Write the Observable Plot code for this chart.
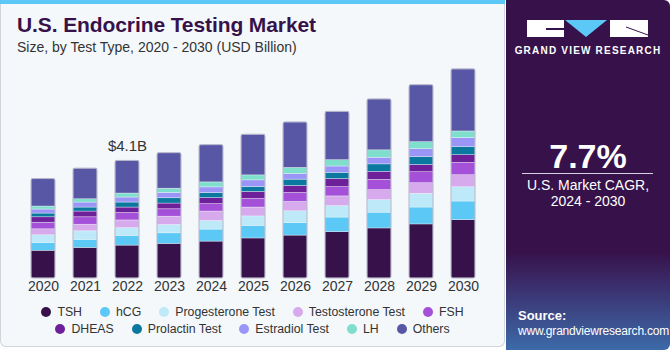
<!DOCTYPE html>
<html><head><meta charset="utf-8">
<script src="https://cdn.jsdelivr.net/npm/d3@7"></script>
<script src="https://cdn.jsdelivr.net/npm/@observablehq/plot@0.6"></script>
<style>
body{margin:0;background:#fff;font-family:"Liberation Sans",Arial,sans-serif;}
#wrap{position:relative;width:670px;height:350px;overflow:hidden;}
#left{position:absolute;left:0;top:0;width:503px;height:346px;background:#f4f8fb;border:1px solid #cfd5da;border-top:none;border-radius:0 0 6px 6px;}
#strip{position:absolute;left:0;top:0;width:505px;height:4px;background:#5bc8f5;}
#title{position:absolute;left:17px;top:13px;font-size:21px;font-weight:bold;color:#37124a;letter-spacing:-0.1px;}
#subtitle{position:absolute;left:17px;top:39px;font-size:14px;color:#333;}
#chart{position:absolute;left:0;top:60px;}
#legend{position:absolute;left:0;top:303px;width:505px;font-size:12.3px;color:#333;}
.row{display:flex;justify-content:center;gap:18px;height:17px;align-items:center;}
.item{display:flex;align-items:center;gap:6px;}
.dot{width:10px;height:10px;border-radius:50%;display:inline-block;}
#right{position:absolute;left:506px;top:0;width:164px;height:350px;border-radius:0 6px 6px 0;
 background:linear-gradient(to bottom,#37124a 0%,#37124a 72%,#3b2f6e 82%,#3d6aa8 100%);}
#right .t{position:absolute;width:164px;text-align:center;color:#fff;}
</style></head>
<body>
<div id="wrap">
 <div id="left"></div>
 <div id="strip"></div>
 <div id="title">U.S. Endocrine Testing Market</div>
 <div id="subtitle">Size, by Test Type, 2020 - 2030 (USD Billion)</div>
 <div id="chart"></div>
 <div id="legend"></div>
 <div id="right">
  <svg width="164" height="60" style="position:absolute;left:0;top:0">
   <rect x="21" y="20" width="37" height="17" fill="#fff"/>
   <rect x="40" y="28" width="18" height="2" fill="#37124a"/>
   <polygon points="59,20 101,20 80,37" fill="#5bc8f5"/>
   <rect x="104" y="20" width="38" height="17" fill="#fff"/>
   <line x1="120" y1="27" x2="142" y2="35" stroke="#37124a" stroke-width="1"/>
  </svg>
  <div class="t" style="top:45px;font-size:10px;font-weight:bold;letter-spacing:1.2px;">GRAND VIEW RESEARCH</div>
  <div class="t" style="top:137px;font-size:34px;font-weight:bold;">7.7%</div>
  <div style="position:absolute;left:16px;top:173px;width:131px;height:1px;background:#d8cfe0;"></div>
  <div class="t" style="top:177px;font-size:14px;line-height:16px;">U.S. Market CAGR,<br>2024 - 2030</div>
  <div style="position:absolute;left:12px;top:308px;color:#fff;font-size:12px;line-height:15px;letter-spacing:-0.2px;"><b style="font-size:13px;letter-spacing:0">Source:</b><br>www.grandviewresearch.com</div>
 </div>
</div>
<script>
const years = ["2020","2021","2022","2023","2024","2025","2026","2027","2028","2029","2030"];
const seriesNames = ["TSH","hCG","Progesterone Test","Testosterone Test","FSH","DHEAS","Prolactin Test","Estradiol Test","LH","Others"];
const colors = ["#37124a","#5bc8f5","#bde9f8","#d6aaec","#a550d8","#6e1f9a","#0b789f","#9b95f8","#7fdfcc","#5757a6"];
const TSH = [0.97,1.07,1.15,1.21,1.29,1.40,1.50,1.62,1.75,1.89,2.04];
const hCG = [0.27,0.28,0.34,0.37,0.42,0.44,0.44,0.51,0.55,0.59,0.65];
const progesterone = [0.27,0.30,0.27,0.29,0.30,0.33,0.41,0.40,0.44,0.48,0.50];
const testosterone = [0.21,0.23,0.27,0.29,0.33,0.31,0.325,0.34,0.35,0.37,0.42];
const FSH = [0.23,0.26,0.26,0.26,0.26,0.30,0.315,0.325,0.36,0.385,0.43];
const DHEAS = [0.19,0.20,0.19,0.20,0.21,0.245,0.245,0.28,0.28,0.255,0.27];
const prolactin = [0.13,0.14,0.175,0.185,0.175,0.175,0.22,0.22,0.26,0.27,0.29];
const estradiol = [0.14,0.175,0.175,0.185,0.20,0.23,0.20,0.22,0.23,0.28,0.31];
const LH = [0.105,0.115,0.14,0.15,0.175,0.175,0.21,0.22,0.26,0.245,0.23];
const others = [0.96,1.07,1.14,1.24,1.30,1.42,1.59,1.69,1.78,1.99,2.17];
const labelYear = "2022";
const labelText = "$4.1B";

const seriesValues = [TSH,hCG,progesterone,testosterone,FSH,DHEAS,prolactin,estradiol,LH,others];
const rows = [];
years.forEach((yr,i)=>seriesValues.forEach((vals,s)=>rows.push({year:yr,series:seriesNames[s],value:vals[i]})));
const totals = years.map((yr,i)=>({year:yr,total:d3.sum(seriesValues,v=>v[i])}));
const labelRows = totals.filter(d=>d.year===labelYear).map(d=>({...d,text:labelText}));

const chart = Plot.plot({
  width:500, height:240,
  marginLeft:22, marginRight:16, marginTop:0, marginBottom:22,
  style:{background:"transparent",fontFamily:"Liberation Sans, Arial, sans-serif",fontSize:"14px",color:"#333"},
  x:{domain:years,paddingInner:0.43,paddingOuter:0.215,label:null},
  y:{domain:[0,7.62],axis:null},
  color:{domain:seriesNames,range:colors},
  marks:[
    Plot.barY(rows,{x:"year",y:"value",fill:"series",stroke:"#f4f8fb",strokeWidth:0.6,strokeOpacity:0.6}),
    Plot.barY(totals,{x:"year",y:"total",fill:"none",stroke:"#b4b4c8",strokeWidth:1,rx:2}),
    Plot.text(labelRows,{x:"year",y:"total",text:"text",dy:-15,fontSize:15,fill:"#333"}),
    Plot.axisX({tickSize:0,tickPadding:3,fontSize:14,fill:"#333"})
  ]
});
document.getElementById("chart").appendChild(chart);

const legend = document.getElementById("legend");
[[0,5],[5,10]].forEach(([a,b])=>{
  const row=document.createElement("div");row.className="row";
  for(let i=a;i<b;i++){
    const it=document.createElement("div");it.className="item";
    it.innerHTML=`<span class="dot" style="background:${colors[i]}"></span><span>${seriesNames[i]}</span>`;
    row.appendChild(it);
  }
  legend.appendChild(row);
});
</script>
</body></html>
